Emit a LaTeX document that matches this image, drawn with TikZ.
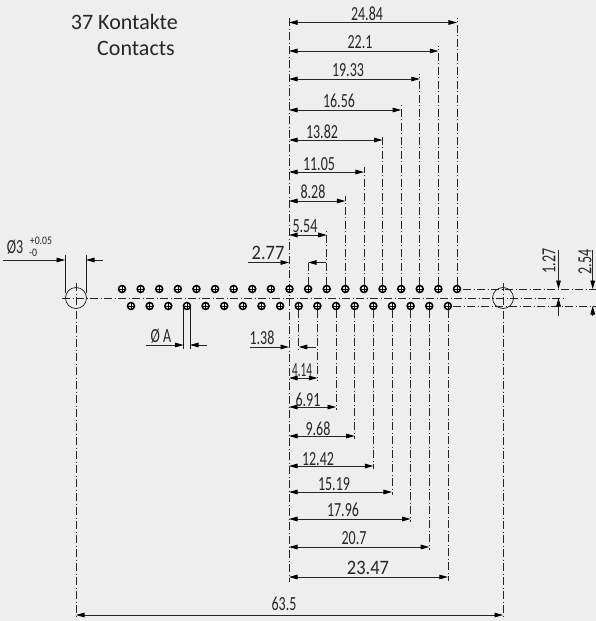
\documentclass[tikz,border=0pt]{standalone}
\usepackage{fontspec}
\setmainfont{Carlito}
\usetikzlibrary{arrows.meta}
\definecolor{sheetgray}{gray}{.933}
\tikzset{
  sheet/.style={fill=sheetgray,draw=none},
  pin/.style={circle,draw=black,line width=1.5pt,inner sep=0pt,minimum size=7pt,
    path picture={\draw [black,line width=.6pt] (path picture bounding box.north) -- (path picture bounding box.south) (path picture bounding box.west) -- (path picture bounding box.east);}},
  hole/.style={circle,draw=black!90,line width=.7pt,inner sep=0pt,minimum size=21pt},
  center line/.style={black!85,line width=.6pt,dash pattern=on 8pt off 2.5pt on 1pt off 2.5pt},
  witness/.style={black!90,line width=.7pt},
  dim line/.style={black!85,line width=.8pt},
  dim tip/.tip={Triangle[length=8.5pt,width=4.6pt,color=black,fill=black]},
  dim arrows/.style={dim line,dim tip-dim tip},
  tip in/.style={dim line,-dim tip},
  label/.style={text=black!85,inner sep=0pt,font=\fontsize{20}{20}\selectfont,xscale=.7,transform shape},
  tight label/.style={label,xscale=.8},
  big label/.style={text=black!85,inner sep=0pt,font=\fontsize{20.5}{21}\selectfont,xscale=.9,transform shape},
  small label/.style={text=black!85,inner sep=0pt,font=\fontsize{11.5}{11.5}\selectfont,xscale=.85,transform shape},
  side label/.style={rotate=90,label},
  title/.style={text=black!85,inner sep=0pt,font=\fontsize{22}{22}\selectfont,anchor=east}
}
\begin{document}
\begin{tikzpicture}[x=1pt,y=-1pt]
\useasboundingbox (0,0) rectangle (596,621);
\fill [sheet] (0,0) rectangle (596,621);

\node [title] (count) at (178,22) {37 Kontakte};
\node [title] (contacts) at (175,48) {Contacts};

% axis lines
\coordinate (axis left) at (62,298);
\coordinate (axis right) at (565,298);
\coordinate (upper end) at (596,289);
\coordinate (lower end) at (596,306);
\draw [center line] (axis left) -- (axis right);

% mounting holes
\node [hole] (hole left) at (76,298) {};
\node [hole] (hole right) at (503,298) {};
\coordinate (hole left top) at (76,283);
\coordinate (hole left bottom) at (76,619);
\coordinate (hole right top) at (503,283);
\coordinate (hole right bottom) at (503,619);
\draw [center line] (hole left top) -- (hole left bottom);
\draw [center line] (hole right top) -- (hole right bottom);

% contacts
\coordinate (upper start) at (463,289);
\coordinate (lower start) at (453,306);
\draw [center line] (upper start) -- (upper end);
\draw [center line] (lower start) -- (lower end);

% datum
\coordinate (datum top) at (289,18);
\coordinate (datum bottom) at (289,582);
\draw [center line] (datum top) -- (datum bottom);

\foreach \i in {1,...,19}
  \node [pin] (up\i) at ({122+(\i-1)*18.61},289) {};
\foreach \i in {1,...,18}
  \node [pin] (lo\i) at ({131+(\i-1)*18.64},306) {};

% upper row
\foreach \n/\dy/\txt/\tx/\ty in {19/22.5/24.84/367/14,18/51/22.1/360/42,17/79/19.33/348/70,16/110/16.56/339/101,15/140/13.82/322/132,14/172/11.05/319/164,13/201/8.28/313/192,12/235/5.54/305/226}{
  \coordinate (lev\n) at (289,\dy);
  \coordinate (top\n) at (289,\dy-5);
  \draw [center line] (up\n.north) -- (up\n |- top\n);
  \draw [dim arrows] (lev\n) -- (up\n |- lev\n);
  \node [label] (uplab\n) at (\tx,\ty) {\txt};
}

% lower row
\foreach \n/\dy/\txt/\tx/\ty in {17/547/20.7/354/538,16/519/17.96/343/510,15/492/15.19/334/484,14/466/12.42/318/459,13/436/9.68/318/429,12/407/6.91/308/400}{
  \coordinate (lev\n) at (289,\dy);
  \coordinate (bot\n) at (289,\dy+3);
  \draw [center line] (lo\n.south) -- (lo\n |- bot\n);
  \draw [dim arrows] (lev\n) -- (lo\n |- lev\n);
  \node [label] (lolab\n) at (\tx,\ty) {\txt};
}
\coordinate (lev11) at (289,378);
\coordinate (bot11) at (289,381);
\draw [center line] (lo11.south) -- (lo11 |- bot11);
\draw [dim arrows] (lev11) -- (lo11 |- lev11);
\node [tight label] (lolab11) at (302,370) {4.14};
\coordinate (lev18) at (289,577);
\coordinate (bot18) at (289,581);
\draw [center line] (lo18.south) -- (lo18 |- bot18);
\draw [dim arrows] (lev18) -- (lo18 |- lev18);
\node [big label] (lolab18) at (368,568) {23.47};

% outside arrows
\coordinate (a2 from) at (248,262.5);
\coordinate (a2 to) at (289,262.5);
\coordinate (a2 back) at (326,262.5);
\draw [tip in] (a2 from) -- (a2 to);
\draw [center line] (up11.north) -- (up11 |- a2 to);
\draw [tip in] (a2 back) -- (up11 |- a2 to);
\node [big label] (uplab11) at (268,253) {2.77};

\coordinate (l1 from) at (250,347);
\coordinate (l1 to) at (289,347);
\coordinate (l1 back) at (316,347);
\coordinate (l1 end) at (289,351);
\draw [tip in] (l1 from) -- (l1 to);
\draw [center line] (lo10.south) -- (lo10 |- l1 end);
\draw [tip in] (l1 back) -- (lo10 |- l1 to);
\node [label] (lolab10) at (262,338) {1.38};

% pin diameter
\coordinate (pa from) at (146,345);
\coordinate (pa left) at (183.5,345);
\coordinate (pa right) at (190,345);
\coordinate (pa back) at (207,345);
\coordinate (pa left top) at (183.5,306);
\coordinate (pa right top) at (190,306);
\coordinate (pa left end) at (183.5,349);
\coordinate (pa right end) at (190,349);
\draw [witness] (pa left top) -- (pa left end);
\draw [witness] (pa right top) -- (pa right end);
\draw [tip in] (pa from) -- (pa left);
\draw [tip in] (pa back) -- (pa right);
\node [label] (pin label) at (161,336) {Ø A};

% hole diameter
\coordinate (ha from) at (3,260);
\coordinate (ha left) at (65,260);
\coordinate (ha right) at (86,260);
\coordinate (ha back) at (103,260);
\coordinate (ha left top) at (65,255);
\coordinate (ha right top) at (86,255);
\coordinate (ha left end) at (65,293);
\coordinate (ha right end) at (86,293);
\draw [witness] (ha left top) -- (ha left end);
\draw [witness] (ha right top) -- (ha right end);
\draw [tip in] (ha from) -- (ha left);
\draw [tip in] (ha back) -- (ha right);
\node [label] (hole label) at (15,247) {Ø3};
\node [small label] (tol up) at (41,241) {+0.05};
\node [small label] (tol down) at (33,253) {-0};

% overall length
\coordinate (len y) at (76,615);
\draw [dim arrows] (hole left |- len y) -- (hole right |- len y);
\node [label] (len label) at (284,604) {63.5};

% side dimensions
\foreach \x/\ym/\txt/\tx/\yy/\ny in {558.5/298/1.27/549/261/a,592.7/306/2.54/585/262/b}{
  \coordinate (side top \ny) at (\x,250);
  \coordinate (side up \ny) at (\x,289);
  \coordinate (side low \ny) at (\x,\ym);
  \coordinate (side end \ny) at (\x,316);
  \draw [tip in] (side top \ny) -- (side up \ny);
  \draw [tip in] (side end \ny) -- (side low \ny);
  \node [side label] (side label \ny) at (\tx,\yy) {\txt};
}
\end{tikzpicture}
\end{document}
